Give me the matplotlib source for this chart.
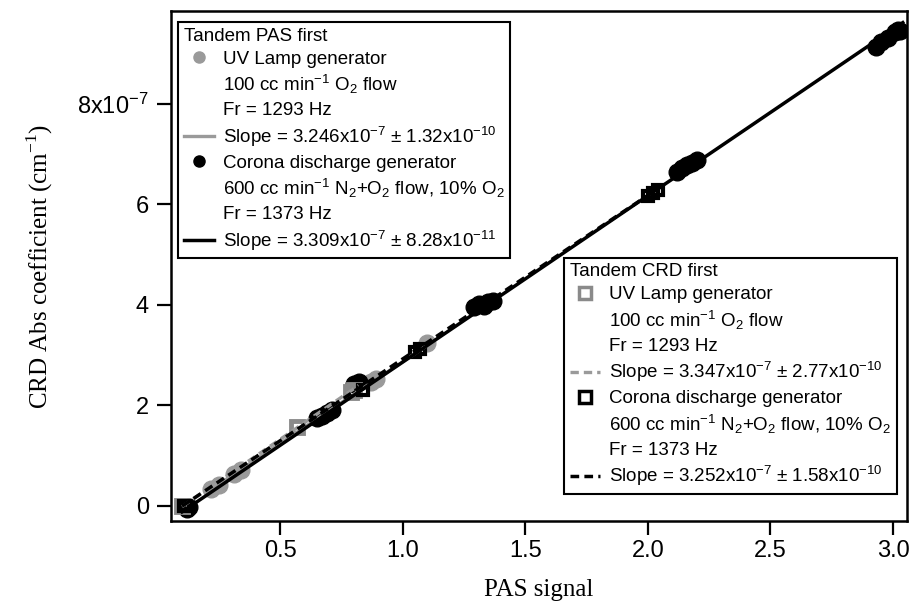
import numpy as np
import matplotlib.pyplot as plt
from matplotlib.lines import Line2D

plt.rcParams['font.family'] = ['Liberation Sans', 'DejaVu Sans']
plt.rcParams['mathtext.fontset'] = 'custom'
plt.rcParams['mathtext.rm'] = 'Liberation Sans'
plt.rcParams['mathtext.it'] = 'Liberation Sans:italic'

# PAS first, UV lamp generator (grey circles)
pas_uv_x = [0.22, 0.25, 0.31, 0.34, 0.87, 0.89, 1.10]
pas_uv_y = [0.33, 0.42, 0.64, 0.72, 2.47, 2.53, 3.24]
# PAS first, corona discharge generator (black circles)
pas_co_x = [0.12, 0.13, 0.65, 0.67, 0.69, 0.71, 0.80, 0.82,
            1.29, 1.31, 1.33, 1.35, 1.37,
            2.12, 2.14, 2.16, 2.18, 2.20,
            2.93, 2.95, 2.98, 3.01, 3.02, 3.03]
pas_co_y = [-0.06, -0.03, 1.74, 1.79, 1.85, 1.90, 2.42, 2.46,
            3.96, 4.02, 3.98, 4.06, 4.08,
            6.64, 6.72, 6.78, 6.82, 6.88,
            9.12, 9.22, 9.30, 9.42, 9.46, 9.45]
# CRD first, UV lamp generator (grey squares)
crd_uv_x = [0.10, 0.57, 0.79, 0.80]
crd_uv_y = [0.00, 1.56, 2.27, 2.31]
# CRD first, corona discharge generator (black squares)
crd_co_x = [0.11, 0.84, 1.05, 1.07, 2.00, 2.02, 2.04]
crd_co_y = [0.00, 2.30, 3.06, 3.12, 6.17, 6.22, 6.28]

# linear fits: slope (x1e-7), intercept (x1e-7), x range
fit_pas_uv = (3.246, -0.38, 0.20, 1.12)
fit_pas_co = (3.309, -0.45, 0.10, 3.04)
fit_crd_uv = (3.347, -0.35, 0.10, 0.82)
fit_crd_co = (3.252, -0.33, 0.10, 2.05)

grey = '#9a9a9a'
scale = 1e-7

fig = plt.figure(figsize=(9.13, 6.05), dpi=100)
ax = fig.add_axes([0.1873, 0.1388, 0.8061, 0.843])

ax.plot(pas_uv_x, np.array(pas_uv_y) * scale, 'o', color=grey, ms=12, mec=grey, zorder=2)
ax.plot(pas_co_x, np.array(pas_co_y) * scale, 'o', color='black', ms=12, zorder=2)
ax.plot(crd_uv_x, np.array(crd_uv_y) * scale, 's', mfc='none', mec='#8a8a8a', mew=3.5, ms=9, zorder=2)
ax.plot(crd_co_x, np.array(crd_co_y) * scale, 's', mfc='none', mec='black', mew=3, ms=7, zorder=2)


def fit_line(fit):
    m, b, x0, x1 = fit
    xs = np.array([x0, x1])
    return xs, (m * xs + b) * scale


xs, ys = fit_line(fit_crd_uv)
ax.plot(xs, ys, color=grey, lw=2.4, ls=(0, (2.5, 1.5)), zorder=3)
xs, ys = fit_line(fit_pas_uv)
ax.plot(xs, ys, color=grey, lw=2.4, zorder=3)
xs, ys = fit_line(fit_pas_co)
ax.plot(xs, ys, color='black', lw=2.5, zorder=4)
xs, ys = fit_line(fit_crd_co)
ax.plot(xs, ys, color='black', lw=2.5, ls=(0, (2.5, 1.5)), zorder=5)

ax.set_xlim(0.055, 3.057)
ax.set_ylim(-0.3e-7, 9.84e-7)
ax.set_xticks([0.5, 1.0, 1.5, 2.0, 2.5, 3.0])
ax.set_xticklabels(['0.5', '1.0', '1.5', '2.0', '2.5', '3.0'])
ax.set_yticks([0, 2e-7, 4e-7, 6e-7, 8e-7])
ax.set_yticklabels(['0', '2', '4', '6', r'8x10$^{\mathregular{-7}}$'])
ax.tick_params(direction='out', length=10, width=1.6, labelsize=17, pad=4)
ax.tick_params(axis='y', pad=6)
for s in ax.spines.values():
    s.set_linewidth(1.8)

ax.set_xlabel('PAS signal', family='Liberation Serif', fontsize=18, labelpad=12)
ax.set_ylabel(r'CRD Abs coefficient (cm$^{\mathregular{-1}}$)', family='Liberation Serif',
              fontsize=18, labelpad=16)

blank = Line2D([], [], ls='none', marker='none')


def make_legend(title, m1, l1, m2, l2, loc, anchor):
    handles = [m1, blank, blank, l1, m2, blank, blank, l2]
    labels = [t for t in title[1:]]
    leg = ax.legend(handles, labels, title=title[0], loc=loc, bbox_to_anchor=anchor,
                    borderaxespad=0, fancybox=False, framealpha=1, edgecolor='black',
                    fontsize=13.5, title_fontsize=13.5, labelspacing=0.3, handlelength=1.6,
                    handletextpad=0.5, borderpad=0.3, alignment='left')
    leg.get_frame().set_linewidth(1.5)
    return leg


texts1 = ['Tandem PAS first',
          'UV Lamp generator',
          r'100 cc min$^{\mathregular{-1}}$ O$_{\mathregular{2}}$ flow',
          'Fr = 1293 Hz',
          r'Slope = 3.246x10$^{\mathregular{-7}}$ $\mathregular{\pm}$ 1.32x10$^{\mathregular{-10}}$',
          'Corona discharge generator',
          r'600 cc min$^{\mathregular{-1}}$ N$_{\mathregular{2}}$+O$_{\mathregular{2}}$ flow, 10% O$_{\mathregular{2}}$',
          'Fr = 1373 Hz',
          r'Slope = 3.309x10$^{\mathregular{-7}}$ $\mathregular{\pm}$ 8.28x10$^{\mathregular{-11}}$']
texts2 = ['Tandem CRD first',
          'UV Lamp generator',
          r'100 cc min$^{\mathregular{-1}}$ O$_{\mathregular{2}}$ flow',
          'Fr = 1293 Hz',
          r'Slope = 3.347x10$^{\mathregular{-7}}$ $\mathregular{\pm}$ 2.77x10$^{\mathregular{-10}}$',
          'Corona discharge generator',
          r'600 cc min$^{\mathregular{-1}}$ N$_{\mathregular{2}}$+O$_{\mathregular{2}}$ flow, 10% O$_{\mathregular{2}}$',
          'Fr = 1373 Hz',
          r'Slope = 3.252x10$^{\mathregular{-7}}$ $\mathregular{\pm}$ 1.58x10$^{\mathregular{-10}}$']

leg1 = make_legend(texts1,
                   Line2D([], [], ls='none', marker='o', color=grey, ms=8),
                   Line2D([], [], color=grey, lw=2.4),
                   Line2D([], [], ls='none', marker='o', color='black', ms=8),
                   Line2D([], [], color='black', lw=2.5),
                   'upper left', (0.0095, 0.978))
ax.add_artist(leg1)
leg2 = make_legend(texts2,
                   Line2D([], [], ls='none', marker='s', mfc='none', mec='#8a8a8a', mew=2.5, ms=8),
                   Line2D([], [], color=grey, lw=2.4, ls=(0, (2.5, 1.5))),
                   Line2D([], [], ls='none', marker='s', mfc='none', mec='black', mew=2.5, ms=8),
                   Line2D([], [], color='black', lw=2.5, ls=(0, (2.5, 1.5))),
                   'lower right', (0.986, 0.053))

fig.savefig('out.png', dpi=100)
